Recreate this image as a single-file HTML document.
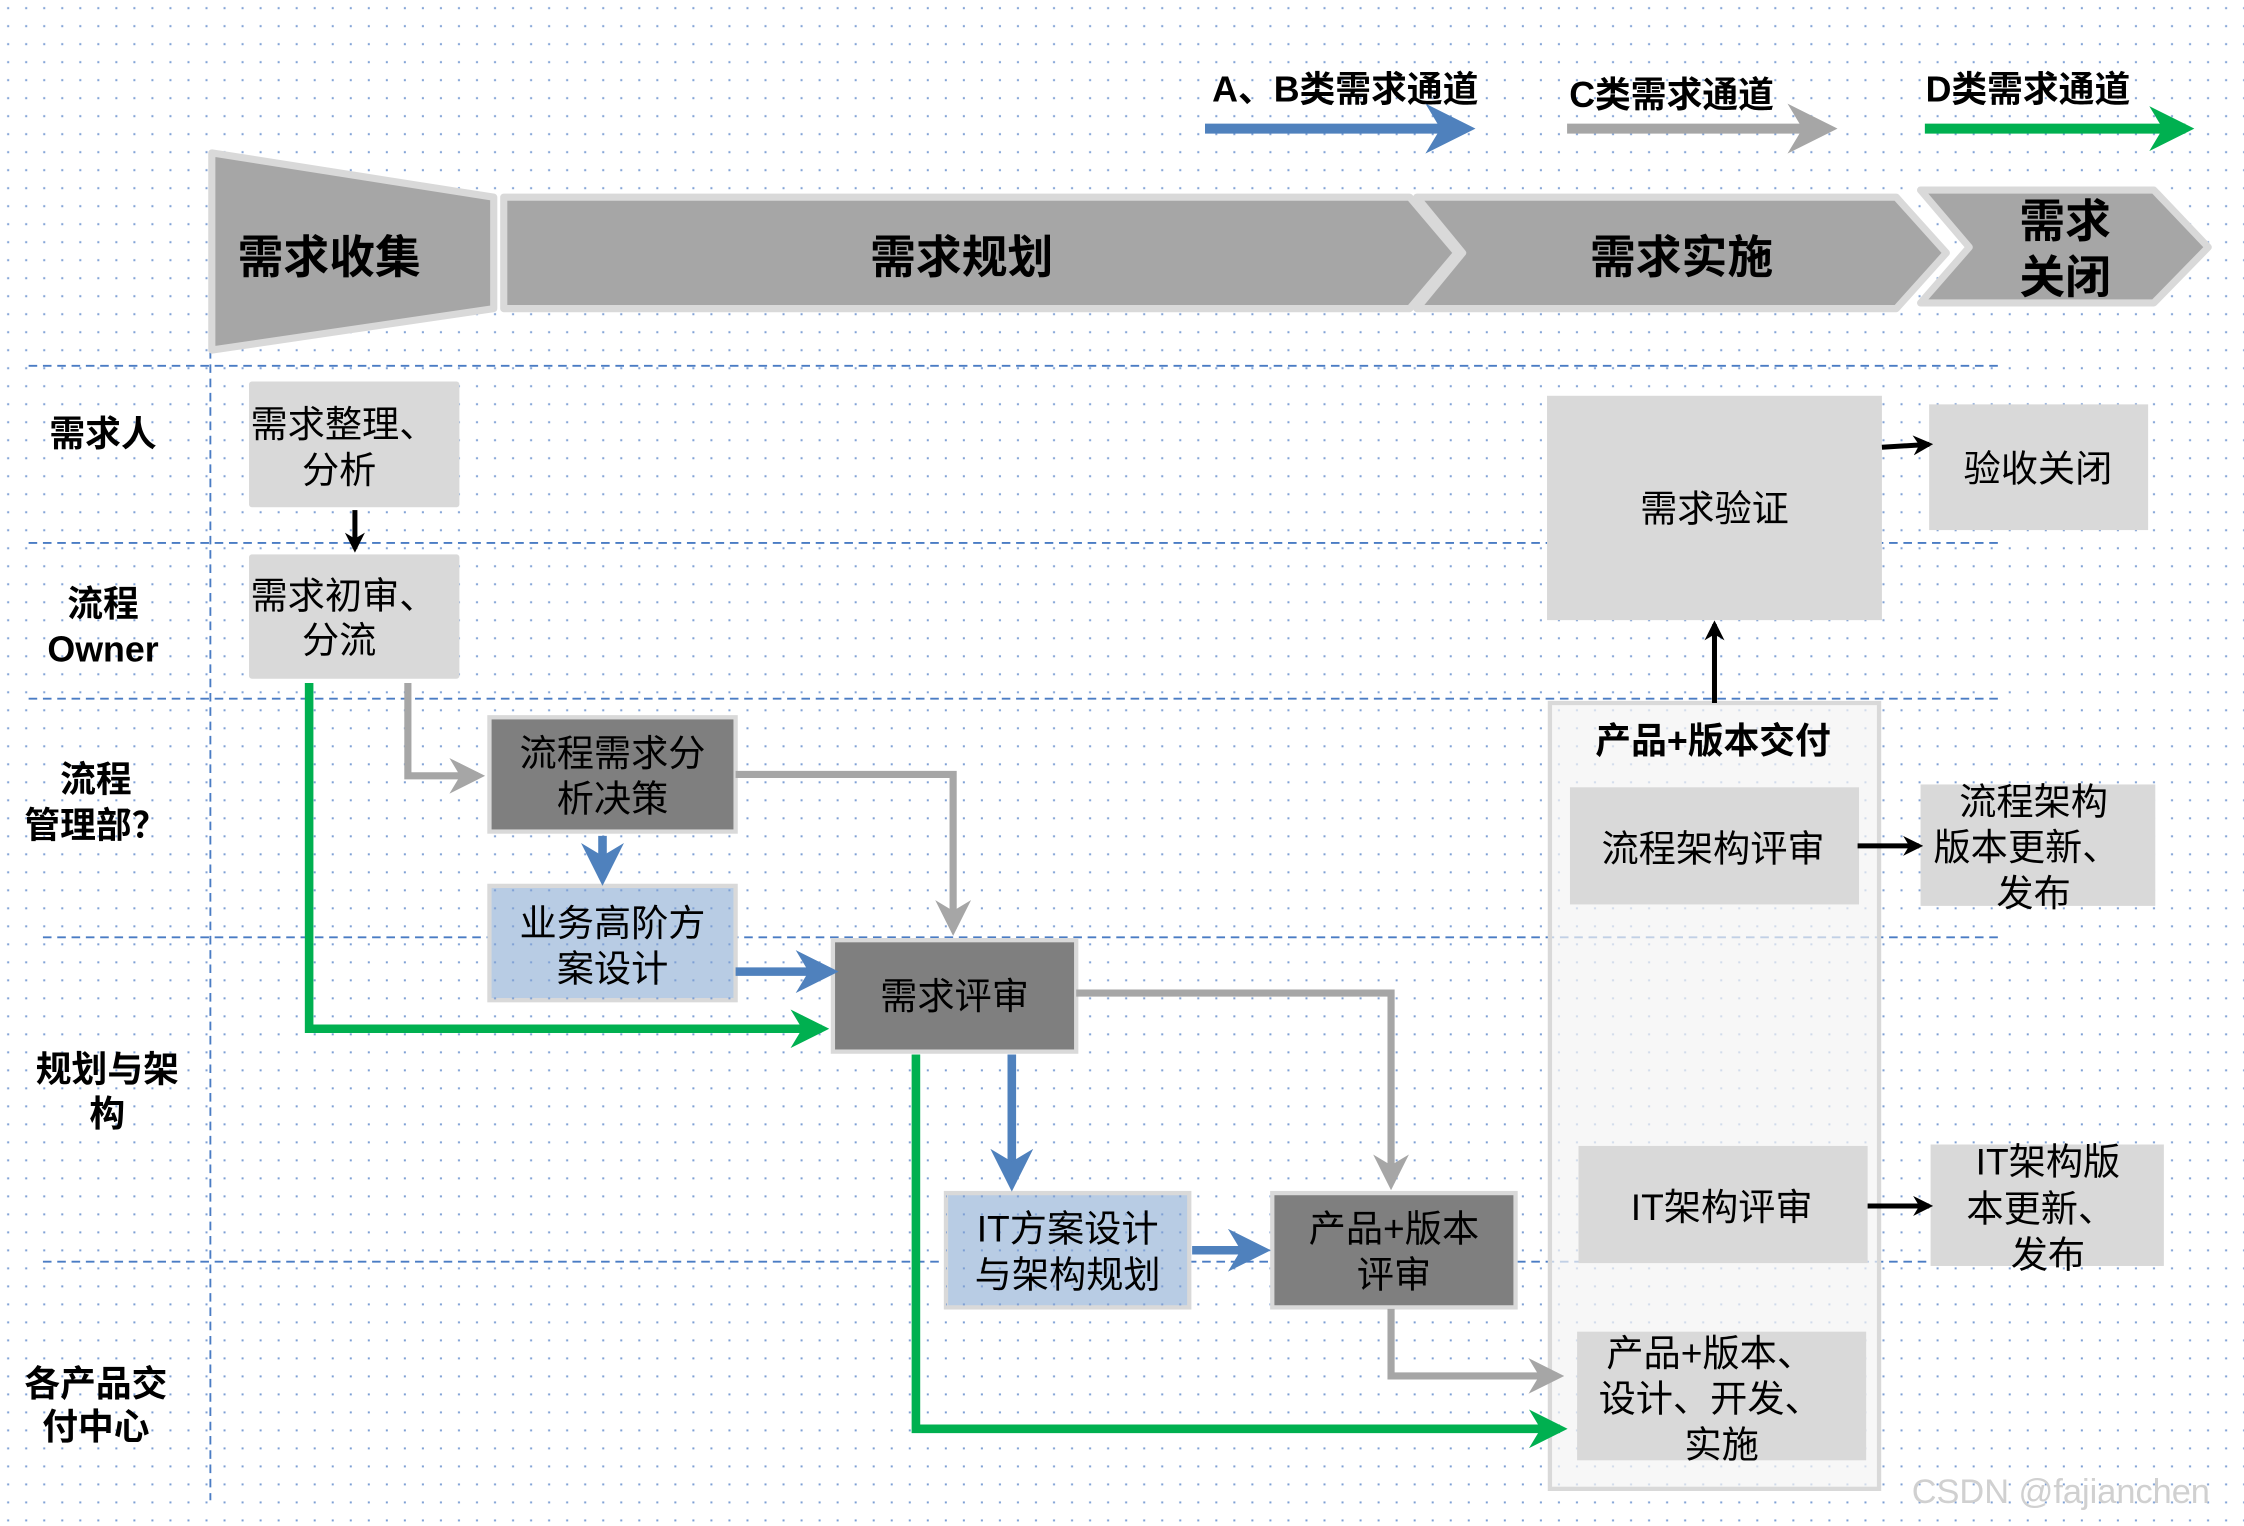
<!DOCTYPE html>
<html><head><meta charset="utf-8">
<style>
html,body{margin:0;padding:0;background:#fff;}
svg{display:block;}
text{font-family:"Liberation Sans","Noto Sans CJK SC",sans-serif;text-anchor:middle;fill:#000;}
.b{font-weight:bold;}
</style></head>
<body>
<svg width="2244" height="1526" viewBox="0 0 1568 1068" preserveAspectRatio="none" xmlns="http://www.w3.org/2000/svg">
<defs>
<pattern id="dots" width="12.6" height="12.6" patternUnits="userSpaceOnUse">
<rect x="5" y="5" width="1.4" height="1.4" fill="#7d9fd4"/>
</pattern>
<marker id="ab" viewBox="0 0 10 10" refX="8" refY="5" markerWidth="5" markerHeight="5" orient="auto"><path d="M0,0 L10,5 L0,10 L3,5z" fill="#4f81bd"/></marker>
<marker id="ag" viewBox="0 0 10 10" refX="8" refY="5" markerWidth="5" markerHeight="5" orient="auto"><path d="M0,0 L10,5 L0,10 L3,5z" fill="#a6a6a6"/></marker>
<marker id="agr" viewBox="0 0 10 10" refX="8" refY="5" markerWidth="4.5" markerHeight="4.5" orient="auto"><path d="M0,0 L10,5 L0,10 L3,5z" fill="#00b050"/></marker>
<marker id="ak" viewBox="0 0 10 10" refX="8" refY="5" markerWidth="4" markerHeight="4" orient="auto"><path d="M0,0 L10,5 L0,10 L3,5z" fill="#000"/></marker>
</defs>
<rect width="1568" height="1068" fill="#fff"/>
<rect width="1568" height="1068" fill="url(#dots)"/>

<!-- lane lines -->
<g stroke="#4a7cc4" stroke-width="1.3" stroke-dasharray="6,4" fill="none">
<line x1="20" y1="256" x2="1400" y2="256"/>
<line x1="20" y1="380" x2="1400" y2="380"/>
<line x1="20" y1="489" x2="1400" y2="489"/>
<line x1="30" y1="656" x2="1400" y2="656"/>
<line x1="30" y1="883" x2="1400" y2="883"/>
<line x1="147" y1="225" x2="147" y2="1050"/>
</g>

<!-- header stages -->
<g fill="#a6a6a6" stroke="#d9d9d9" stroke-width="5" stroke-linejoin="round">
<polygon points="148,107 345,138 345,216 148,245"/>
<polygon points="352,138 985,138 1018,177 985,216 352,216"/>
<polygon points="990,138 1325,138 1360,177 1325,216 990,216 1022,177"/>
<polygon points="1342,133 1505,133 1543,173 1505,212 1342,212 1376,173"/>
</g>
<text x="230" y="191" class="b" font-size="32">需求收集</text>
<text x="672" y="191" class="b" font-size="32">需求规划</text>
<text x="1175" y="191" class="b" font-size="32">需求实施</text>
<text x="1443" y="166" class="b" font-size="32">需求</text>
<text x="1443" y="205" class="b" font-size="32">关闭</text>

<!-- legend -->
<text x="940" y="71" class="b" font-size="25">A、B类需求通道</text>
<text x="1168" y="75" class="b" font-size="25">C类需求通道</text>
<text x="1417" y="71" class="b" font-size="25">D类需求通道</text>
<line x1="842" y1="90" x2="1024" y2="90" stroke="#4f81bd" stroke-width="7" marker-end="url(#ab)"/>
<line x1="1095" y1="90" x2="1277" y2="90" stroke="#a6a6a6" stroke-width="7" marker-end="url(#ag)"/>
<line x1="1345" y1="90" x2="1527" y2="90" stroke="#00b050" stroke-width="7" marker-end="url(#agr)"/>

<!-- lane labels -->
<g class="b" font-size="25">
<text x="72" y="312" class="b">需求人</text>
<text x="72" y="431" class="b">流程</text>
<text x="72" y="463" class="b">Owner</text>
<text x="67" y="554" class="b">流程</text>
<text x="67" y="586" class="b">管理部？</text>
<text x="75" y="757" class="b">规划与架</text>
<text x="75" y="788" class="b">构</text>
<text x="67" y="977" class="b">各产品交</text>
<text x="67" y="1007" class="b">付中心</text>
</g>

<!-- delivery container -->
<rect x="1083" y="492" width="230" height="550" fill="#f4f4f4" fill-opacity="0.7" stroke="#d9d9d9" stroke-width="3"/>
<text x="1197" y="527" class="b" font-size="25">产品+版本交付</text>

<!-- light boxes -->
<g fill="#d9d9d9">
<rect x="174" y="267" width="147" height="88" rx="2"/>
<rect x="174" y="388" width="147" height="87" rx="2"/>
<rect x="1081" y="277" width="234" height="157"/>
<rect x="1348" y="283" width="153" height="88"/>
<rect x="1097" y="551" width="202" height="82"/>
<rect x="1342" y="549" width="164" height="85"/>
<rect x="1103" y="802" width="202" height="82"/>
<rect x="1349" y="801" width="163" height="85"/>
<rect x="1102" y="932" width="202" height="90"/>
</g>
<!-- dark boxes -->
<g fill="#7f7f7f" stroke="#d9d9d9" stroke-width="3">
<rect x="342" y="502" width="172" height="80"/>
<rect x="582" y="658" width="170" height="78"/>
<rect x="889" y="835" width="170" height="80"/>
</g>
<!-- blue boxes -->
<g fill="#b8cce4" stroke="#d9d9d9" stroke-width="3">
<rect x="342" y="620" width="172" height="80"/>
<rect x="661" y="835" width="170" height="80"/>
</g>
<rect x="342" y="620" width="172" height="80" fill="url(#dots)"/>
<rect x="661" y="835" width="170" height="80" fill="url(#dots)"/>

<g font-size="26">
<text x="240" y="306">需求整理、</text>
<text x="237" y="338">分析</text>
<text x="240" y="426">需求初审、</text>
<text x="237" y="457">分流</text>
<text x="428" y="536">流程需求分</text>
<text x="428" y="568">析决策</text>
<text x="428" y="655">业务高阶方</text>
<text x="428" y="687">案设计</text>
<text x="667" y="706">需求评审</text>
<text x="746" y="869">IT方案设计</text>
<text x="746" y="901">与架构规划</text>
<text x="974" y="869">产品+版本</text>
<text x="974" y="901">评审</text>
<text x="1198" y="365">需求验证</text>
<text x="1424" y="337">验收关闭</text>
<text x="1197" y="603">流程架构评审</text>
<text x="1421" y="570">流程架构</text>
<text x="1416" y="602">版本更新、</text>
<text x="1421" y="634">发布</text>
<text x="1203" y="854">IT架构评审</text>
<text x="1431" y="822">IT架构版</text>
<text x="1426" y="855">本更新、</text>
<text x="1431" y="887">发布</text>
<text x="1195" y="956">产品+版本、</text>
<text x="1195" y="988">设计、开发、</text>
<text x="1203" y="1020">实施</text>
</g>

<!-- connectors -->
<g fill="none" stroke-linejoin="miter">
<polyline points="285,478 285,543 334,543" stroke="#a6a6a6" stroke-width="5" marker-end="url(#ag)"/>
<polyline points="514,542 666,542 666,650" stroke="#a6a6a6" stroke-width="5" marker-end="url(#ag)"/>
<polyline points="752,695 972,695 972,828" stroke="#a6a6a6" stroke-width="5" marker-end="url(#ag)"/>
<polyline points="972,916 972,963 1088,963" stroke="#a6a6a6" stroke-width="5" marker-end="url(#ag)"/>
<line x1="421" y1="585" x2="421" y2="614" stroke="#4f81bd" stroke-width="6" marker-end="url(#ab)"/>
<line x1="514" y1="680" x2="580" y2="680" stroke="#4f81bd" stroke-width="6" marker-end="url(#ab)"/>
<line x1="707" y1="738" x2="707" y2="828" stroke="#4f81bd" stroke-width="6" marker-end="url(#ab)"/>
<line x1="833" y1="875" x2="882" y2="875" stroke="#4f81bd" stroke-width="6" marker-end="url(#ab)"/>
<polyline points="216,478 216,720 574,720" stroke="#00b050" stroke-width="6" marker-end="url(#agr)"/>
<polyline points="640,738 640,1000 1090,1000" stroke="#00b050" stroke-width="6" marker-end="url(#agr)"/>
<line x1="248" y1="357" x2="248" y2="384" stroke="#000" stroke-width="3.5" marker-end="url(#ak)"/>
<line x1="1198" y1="492" x2="1198" y2="437" stroke="#000" stroke-width="3.5" marker-end="url(#ak)"/>
<line x1="1315" y1="313" x2="1348" y2="311" stroke="#000" stroke-width="3.5" marker-end="url(#ak)"/>
<line x1="1298" y1="592" x2="1341" y2="592" stroke="#000" stroke-width="3.5" marker-end="url(#ak)"/>
<line x1="1305" y1="844" x2="1348" y2="844" stroke="#000" stroke-width="3.5" marker-end="url(#ak)"/>
</g>

<text x="1440" y="1052" font-size="24" style="fill:#d0d0d0">CSDN @fajianchen</text>
</svg>
</body></html>
